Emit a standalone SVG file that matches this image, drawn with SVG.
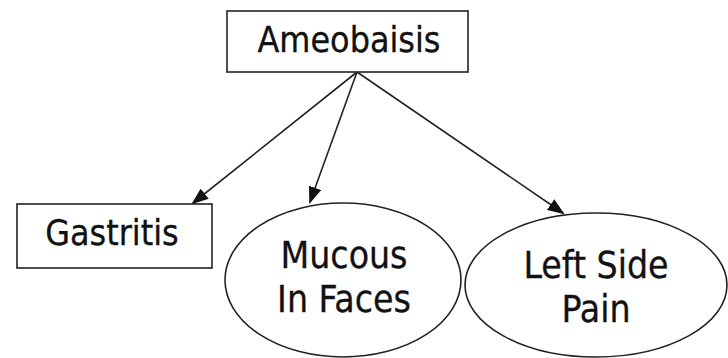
<svg xmlns="http://www.w3.org/2000/svg" width="728" height="358" viewBox="0 0 728 358">
<style>
.box{fill:#fff;stroke:#222;stroke-width:1.6}
.t{font-family:"DejaVu Sans Condensed","DejaVu Sans",sans-serif;font-size:35.5px;fill:#111;text-anchor:middle;stroke:#111;stroke-width:0.3}
.te{font-size:37px}
.e{stroke:#222;stroke-width:1.6;fill:none}
</style>
<defs>
<marker id="ah" markerWidth="17" markerHeight="13" refX="15" refY="6.5" orient="auto" markerUnits="userSpaceOnUse">
<path d="M0,0 L17,6.5 L0,13 Z" fill="#111"/>
</marker>
</defs>
<rect width="728" height="358" fill="#fff"/>
<g id="connectors">
<line class="e" x1="357" y1="72" x2="193" y2="203" marker-end="url(#ah)"/>
<line class="e" x1="357" y1="72" x2="310" y2="202" marker-end="url(#ah)"/>
<line class="e" x1="357" y1="72" x2="563" y2="213" marker-end="url(#ah)"/>
</g>
<g id="ameobaisis">
<rect class="box" x="227" y="11" width="241" height="61"/>
<text class="t" x="349" y="52">Ameobaisis</text>
</g>
<g id="gastritis">
<rect class="box" x="17" y="204" width="195" height="64"/>
<text class="t" x="112" y="245">Gastritis</text>
</g>
<g id="mucous">
<ellipse class="box" cx="343" cy="280" rx="118" ry="77"/>
<text class="t te" x="344" y="268">Mucous</text>
<text class="t te" x="344" y="312">In Faces</text>
</g>
<g id="leftside">
<ellipse class="box" cx="596" cy="285" rx="131" ry="72"/>
<text class="t te" x="596" y="278">Left Side</text>
<text class="t te" x="596" y="322">Pain</text>
</g>
</svg>
